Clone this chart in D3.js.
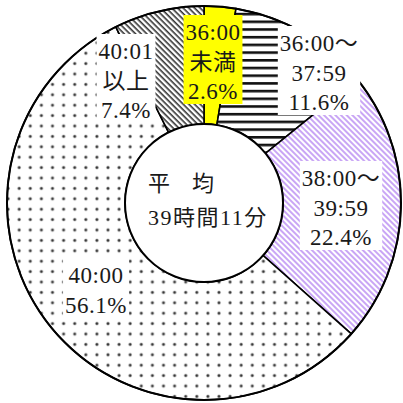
<html>
  <head>
    <script src="https://d3js.org/d3.v7.min.js"></script>
    <style>
      body { margin: 0; background: #fff; }
    </style>
  </head>
  <body>
    <svg id="vis"></svg>
  </body>
  <script>
    // Data: share of workers by weekly working hours
    var categories = ["36:00未満", "36:00～37:59", "38:00～39:59", "40:00", "40:01以上"]
    var shares = [2.6, 11.6, 22.4, 56.1, 7.4]
    var labelLines = [["36:00", "未満"], ["36:00～", "37:59"], ["38:00～", "39:59"], ["40:00"], ["40:01", "以上"]]
    var centerLines = ["平　均", "39時間11分"]

    // Layout
    var width = 403, height = 403
    var cx = 204, cy = 203, outerR = 197, innerR = 79
    var font = "'Liberation Serif', 'Times New Roman', 'DejaVu Serif', 'Noto Sans CJK JP', serif"
    var fills = ["#ffff00", "url(#hstripe)", "url(#purple)", "url(#dots)", "url(#darkdiag)"]
    // label centre (x) and first-line centre (y), box background
    var labelPos = [
      {x: 213, y: 32, bg: "#ffff00"},
      {x: 319, y: 43, bg: "#fff"},
      {x: 341, y: 178, bg: "#fff"},
      {x: 96, y: 275, bg: "#fff"},
      {x: 126, y: 51, bg: "#fff"}
    ]
    var lineH = 29.5

    var svg = d3.select("#vis").attr("width", width).attr("height", height)
    var defs = svg.append("defs")

    // horizontal stripes
    var p1 = defs.append("pattern").attr("id", "hstripe").attr("patternUnits", "userSpaceOnUse")
      .attr("width", 10).attr("height", 7.7).attr("y", 2.3)
    p1.append("rect").attr("width", 10).attr("height", 7.7).attr("fill", "#fff")
    p1.append("rect").attr("width", 10).attr("height", 2.6).attr("fill", "#111")

    // light purple diagonal
    var p2 = defs.append("pattern").attr("id", "purple").attr("patternUnits", "userSpaceOnUse")
      .attr("width", 4).attr("height", 4).attr("patternTransform", "rotate(45)")
    p2.append("rect").attr("width", 4).attr("height", 4).attr("fill", "#fff")
    p2.append("rect").attr("width", 4).attr("height", 2).attr("fill", "#c9a6f5")

    // dark diagonal
    var p3 = defs.append("pattern").attr("id", "darkdiag").attr("patternUnits", "userSpaceOnUse")
      .attr("width", 4).attr("height", 4).attr("patternTransform", "rotate(45)")
    p3.append("rect").attr("width", 4).attr("height", 4).attr("fill", "#fff")
    p3.append("rect").attr("width", 4).attr("height", 1.6).attr("fill", "#333")

    // dots
    var p4 = defs.append("pattern").attr("id", "dots").attr("patternUnits", "userSpaceOnUse")
      .attr("width", 11.1).attr("height", 10.4).attr("x", 9.45).attr("y", 177.8)
    p4.append("rect").attr("width", 11.1).attr("height", 10.4).attr("fill", "#fff")
    p4.append("circle").attr("cx", 5.55).attr("cy", 5.2).attr("r", 1.9).attr("fill", "#bbb")
    p4.append("circle").attr("cx", 5.55).attr("cy", 5.2).attr("r", 1.2).attr("fill", "#333")

    var pie = d3.pie().sort(null)
    var arc = d3.arc().innerRadius(innerR).outerRadius(outerR)
    var g = svg.append("g").attr("transform", "translate(" + cx + "," + cy + ")")

    g.selectAll("path.slice")
      .data(pie(shares))
      .enter()
      .append("path")
      .attr("class", "slice")
      .attr("d", arc)
      .attr("fill", function(d, i){ return fills[i] })
      .attr("stroke", "#000")
      .attr("stroke-width", 1.6)

    g.append("circle").attr("r", outerR).attr("fill", "none").attr("stroke", "#000").attr("stroke-width", 2)
    g.append("circle").attr("r", innerR).attr("fill", "#fff").attr("stroke", "#000").attr("stroke-width", 2)

    // labels
    var fmt = d3.format(".1f")
    categories.forEach(function(c, i) {
      var lines = labelLines[i].concat([fmt(shares[i]) + "%"])
      var p = labelPos[i]
      var lg = svg.append("g").attr("class", "label")
      var bg = lg.append("rect").attr("fill", p.bg)
      var t = lg.append("text")
        .attr("text-anchor", "middle")
        .attr("font-family", font)
        .attr("font-size", 23)
        .attr("letter-spacing", 0.5)
        .attr("fill", "#1a1a1a")
      lines.forEach(function(l, k) {
        t.append("tspan").attr("x", p.x).attr("y", p.y + k * lineH + 8).text(l)
      })
      var bb = t.node().getBBox()
      bg.attr("x", bb.x - 2).attr("width", bb.width + 4)
        .attr("y", p.y - 17).attr("height", (lines.length - 1) * lineH + 30)
    })

    // centre text
    var ct = svg.append("text").attr("font-family", font).attr("font-size", 22).attr("fill", "#1a1a1a")
    centerLines.forEach(function(l, k) {
      ct.append("tspan").attr("x", 148).attr("y", 183 + k * 34 + 8)
        .attr("letter-spacing", k === 1 ? 1.5 : 0)
        .text(l)
    })
  </script>
</html>
